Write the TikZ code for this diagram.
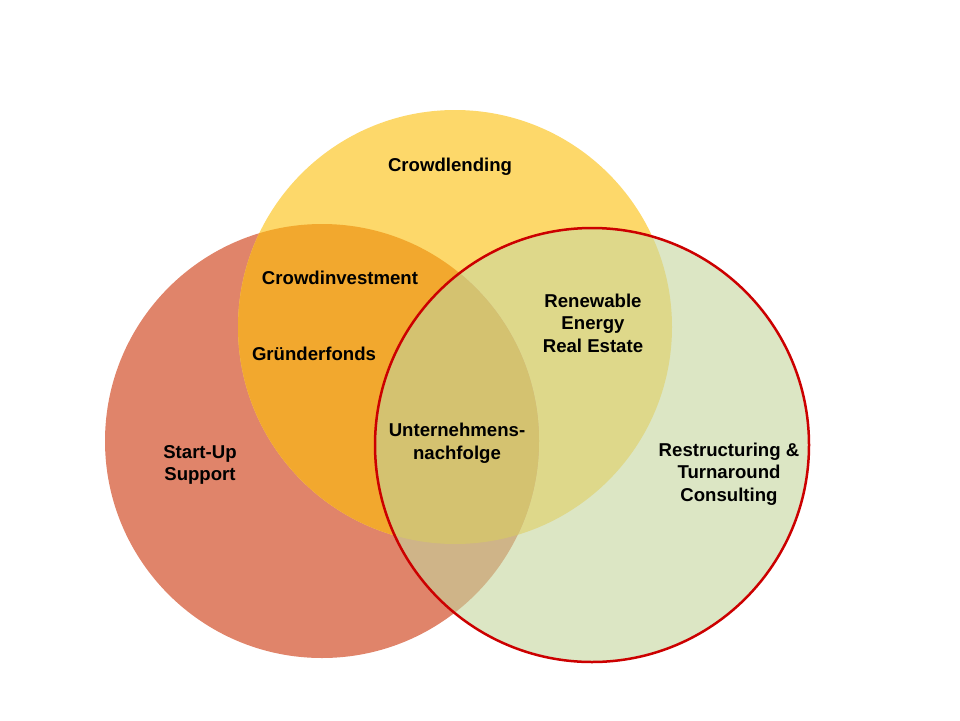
\documentclass[tikz,border=0pt]{standalone}
\usepackage{fontspec}
\setmainfont{Liberation Sans}
\definecolor{cL}{RGB}{224,132,106}
\definecolor{cT}{RGB}{253,216,106}
\definecolor{cR}{RGB}{220,230,196}
\definecolor{cLT}{RGB}{242,168,46}
\definecolor{cTR}{RGB}{222,216,138}
\definecolor{cLR}{RGB}{207,180,136}
\definecolor{cLTR}{RGB}{212,194,112}
\definecolor{cBorder}{RGB}{204,0,0}
\tikzset{lbl/.style={align=center,font=\bfseries\fontsize{18.6}{22.5}\selectfont,inner sep=0pt}}
\begin{document}
\begin{tikzpicture}[x=1pt,y=-1pt]
\useasboundingbox (0,0) rectangle (960,720);
\def\rr{217}
\coordinate (L) at (322,441);
\coordinate (T) at (455,327);
\coordinate (R) at (592,445);
\fill[cL] (L) circle (\rr);
\fill[cT] (T) circle (\rr);
\begin{scope}\clip (L) circle (\rr); \fill[cLT] (T) circle (\rr);\end{scope}
\fill[cR] (R) circle (\rr);
\begin{scope}\clip (R) circle (\rr); \fill[cTR] (T) circle (\rr);\end{scope}
\begin{scope}\clip (R) circle (\rr); \fill[cLR] (L) circle (\rr);\end{scope}
\begin{scope}\clip (R) circle (\rr); \clip (L) circle (\rr); \fill[cLTR] (T) circle (\rr);\end{scope}
\draw[cBorder,line width=2.5pt] (R) circle (\rr);
\node[lbl] (cl) at (450,167) {Crowdlending};
\node[lbl] (ci) at (340,278) {Crowdinvestment};
\node[lbl] (gf) at (314,354) {Gründerfonds};
\node[lbl] (re) at (593,323) {Renewable\\Energy\\Real Estate};
\node[lbl] (un) at (457,443) {Unternehmens-\\nachfolge};
\node[lbl] (su) at (200,465) {Start-Up\\Support};
\node[lbl] (rt) at (729,474) {Restructuring \&\\Turnaround\\Consulting};
\end{tikzpicture}
\end{document}
